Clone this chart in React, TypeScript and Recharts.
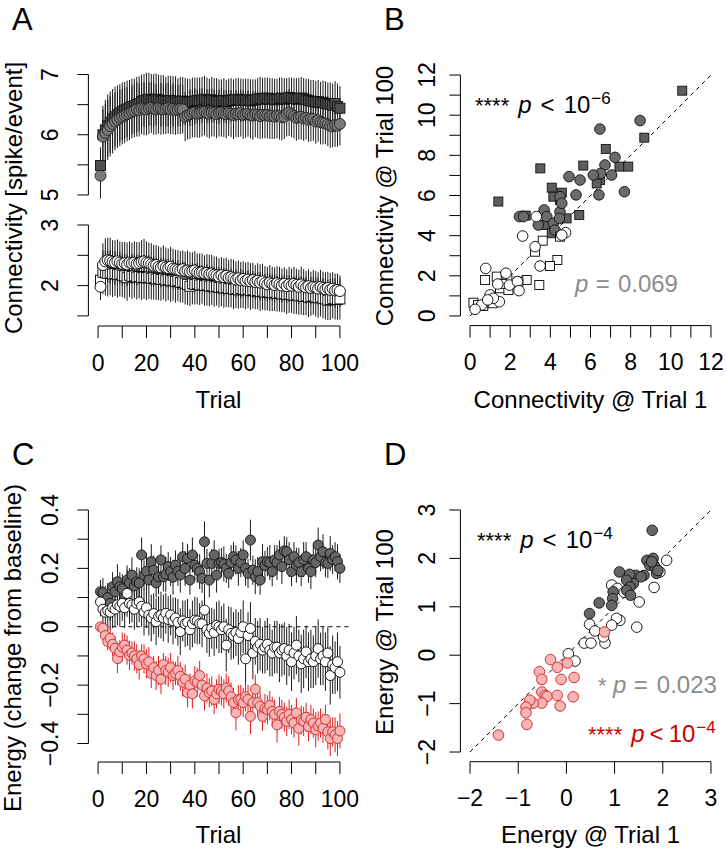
import React from "react";
import { ScatterChart, Scatter, XAxis, YAxis, ErrorBar, ReferenceLine } from "recharts";

const FONT = '"Liberation Sans", Arial, Helvetica, sans-serif';
const PAGE_W = 727;
const PAGE_H = 852;
const AXIS_W = 50;
const AXIS_H = 50;

// trial numbers (x of panels A and C)
const trials = Array.from({ length: 100 }, (_, i) => i + 1);
const trialTicks = [0, 10, 20, 30, 40, 50, 60, 70, 80, 90, 100];
const trialLabels = [0, 20, 40, 60, 80, 100];

// ---- panel A, upper part (grey circles / dark squares)
const aGray = [
    5.32, 5.97, 6.03, 6.08, 6.14, 6.18, 6.22, 6.25, 6.28, 6.3,
    6.32, 6.34, 6.36, 6.38, 6.4, 6.42, 6.41, 6.44, 6.43, 6.42,
    6.44, 6.45, 6.43, 6.42, 6.44, 6.43, 6.42, 6.43, 6.44, 6.42,
    6.43, 6.41, 6.42, 6.43, 6.42, 6.3, 6.32, 6.34, 6.36, 6.37,
    6.35, 6.36, 6.37, 6.38, 6.36, 6.35, 6.37, 6.36, 6.34, 6.36,
    6.37, 6.35, 6.34, 6.36, 6.35, 6.33, 6.35, 6.34, 6.36, 6.33,
    6.34, 6.35, 6.33, 6.32, 6.34, 6.33, 6.31, 6.33, 6.32, 6.33,
    6.31, 6.32, 6.3, 6.32, 6.31, 6.29, 6.3, 6.35, 6.37, 6.34,
    6.31, 6.28, 6.29, 6.3, 6.27, 6.28, 6.25, 6.27, 6.26, 6.22,
    6.24, 6.21, 6.2, 6.19, 6.17, 6.15, 6.14, 6.16, 6.15, 6.18,
];
const aGrayErr = [
    0.38, 0.45, 0.48, 0.5, 0.5, 0.49, 0.48, 0.47, 0.47, 0.46,
    0.46, 0.45, 0.45, 0.44, 0.44, 0.45, 0.44, 0.43, 0.44, 0.43,
    0.43, 0.42, 0.43, 0.42, 0.42, 0.43, 0.41, 0.42, 0.42, 0.41,
    0.42, 0.41, 0.41, 0.42, 0.4, 0.41, 0.4, 0.41, 0.4, 0.41,
    0.4, 0.41, 0.4, 0.39, 0.4, 0.41, 0.4, 0.39, 0.4, 0.39,
    0.4, 0.39, 0.4, 0.38, 0.39, 0.4, 0.39, 0.38, 0.39, 0.4,
    0.39, 0.38, 0.39, 0.4, 0.38, 0.39, 0.38, 0.39, 0.38, 0.39,
    0.38, 0.39, 0.37, 0.38, 0.39, 0.38, 0.37, 0.38, 0.39, 0.38,
    0.37, 0.38, 0.37, 0.38, 0.37, 0.36, 0.37, 0.38, 0.36, 0.37,
    0.36, 0.37, 0.36, 0.35, 0.36, 0.37, 0.35, 0.36, 0.35, 0.36,
];
const aDark = [
    5.49, 6.0, 6.08, 6.15, 6.21, 6.26, 6.3, 6.33, 6.36, 6.39,
    6.41, 6.43, 6.45, 6.47, 6.48, 6.5, 6.52, 6.55, 6.57, 6.58,
    6.59, 6.58, 6.57, 6.59, 6.58, 6.56, 6.57, 6.55, 6.56, 6.57,
    6.55, 6.56, 6.54, 6.55, 6.56, 6.55, 6.53, 6.54, 6.55, 6.56,
    6.57, 6.56, 6.58, 6.59, 6.57, 6.56, 6.58, 6.57, 6.56, 6.55,
    6.56, 6.57, 6.55, 6.56, 6.58, 6.57, 6.58, 6.59, 6.57, 6.58,
    6.57, 6.58, 6.56, 6.57, 6.58, 6.59, 6.6, 6.59, 6.61, 6.6,
    6.59, 6.6, 6.58, 6.59, 6.6, 6.61, 6.59, 6.6, 6.62, 6.61,
    6.6, 6.59, 6.6, 6.61, 6.6, 6.58, 6.57, 6.56, 6.55, 6.54,
    6.55, 6.53, 6.54, 6.52, 6.51, 6.5, 6.49, 6.52, 6.47, 6.44,
];
const aDarkErr = [
    0.3, 0.48, 0.5, 0.52, 0.51, 0.5, 0.5, 0.49, 0.48, 0.48,
    0.47, 0.47, 0.46, 0.46, 0.45, 0.46, 0.45, 0.45, 0.44, 0.45,
    0.44, 0.43, 0.44, 0.43, 0.42, 0.43, 0.42, 0.41, 0.42, 0.41,
    0.42, 0.41, 0.4, 0.41, 0.4, 0.39, 0.4, 0.39, 0.4, 0.39,
    0.38, 0.39, 0.38, 0.39, 0.38, 0.37, 0.38, 0.37, 0.38, 0.37,
    0.36, 0.37, 0.36, 0.37, 0.36, 0.35, 0.36, 0.35, 0.36, 0.35,
    0.36, 0.35, 0.36, 0.35, 0.34, 0.35, 0.36, 0.35, 0.34, 0.35,
    0.35, 0.34, 0.35, 0.34, 0.35, 0.34, 0.35, 0.34, 0.33, 0.34,
    0.34, 0.35, 0.34, 0.35, 0.34, 0.35, 0.36, 0.35, 0.36, 0.35,
    0.36, 0.35, 0.36, 0.37, 0.36, 0.37, 0.36, 0.37, 0.38, 0.37,
];

// ---- panel A, lower part (white circles / white squares)
const aWhite = [
    1.98, 2.34, 2.4, 2.42, 2.41, 2.39, 2.38, 2.4, 2.38, 2.36,
    2.37, 2.35, 2.38, 2.37, 2.38, 2.36, 2.37, 2.39, 2.4, 2.38,
    2.37, 2.35, 2.33, 2.34, 2.31, 2.3, 2.32, 2.3, 2.29, 2.31,
    2.28, 2.27, 2.26, 2.25, 2.27, 2.24, 2.25, 2.23, 2.24, 2.25,
    2.22, 2.21, 2.22, 2.2, 2.21, 2.19, 2.2, 2.18, 2.17, 2.15,
    2.17, 2.14, 2.16, 2.13, 2.14, 2.12, 2.1, 2.12, 2.09, 2.11,
    2.08, 2.1, 2.07, 2.09, 2.06, 2.08, 2.05, 2.07, 2.04, 2.02,
    2.05, 2.03, 2.01, 2.04, 2.02, 2.0, 2.03, 1.99, 2.02, 2.0,
    2.03, 2.01, 1.98, 2.02, 1.99, 1.97, 1.99, 1.96, 1.98, 1.97,
    1.95, 1.98, 1.96, 1.94, 1.96, 1.93, 1.95, 1.92, 1.93, 1.91,
];
const aWhiteErr = [
    0.22, 0.36, 0.38, 0.37, 0.38, 0.36, 0.37, 0.36, 0.35, 0.36,
    0.35, 0.36, 0.35, 0.34, 0.35, 0.36, 0.35, 0.36, 0.37, 0.35,
    0.34, 0.35, 0.34, 0.33, 0.34, 0.33, 0.34, 0.33, 0.32, 0.33,
    0.33, 0.32, 0.33, 0.32, 0.31, 0.32, 0.33, 0.32, 0.31, 0.32,
    0.31, 0.32, 0.31, 0.3, 0.31, 0.32, 0.31, 0.3, 0.31, 0.3,
    0.3, 0.31, 0.3, 0.29, 0.3, 0.31, 0.3, 0.29, 0.3, 0.29,
    0.3, 0.29, 0.3, 0.29, 0.28, 0.29, 0.3, 0.29, 0.28, 0.29,
    0.29, 0.28, 0.29, 0.28, 0.29, 0.28, 0.27, 0.28, 0.29, 0.28,
    0.28, 0.27, 0.28, 0.29, 0.28, 0.27, 0.28, 0.27, 0.28, 0.27,
    0.27, 0.28, 0.27, 0.28, 0.27, 0.28, 0.27, 0.28, 0.27, 0.26,
];
const aWhiteSq = [
    2.09, 2.22, 2.21, 2.2, 2.21, 2.19, 2.2, 2.18, 2.19, 2.17,
    2.16, 2.13, 2.17, 2.15, 2.16, 2.14, 2.15, 2.13, 2.14, 2.13,
    2.14, 2.12, 2.13, 2.11, 2.12, 2.1, 2.11, 2.09, 2.1, 2.08,
    2.09, 2.07, 2.08, 2.05, 2.06, 2.04, 2.02, 1.99, 2.03, 2.02,
    2.03, 2.01, 2.02, 2.0, 2.01, 1.99, 2.0, 1.98, 1.99, 1.97,
    1.98, 1.96, 1.97, 1.95, 1.96, 1.94, 1.95, 1.93, 1.95, 1.94,
    1.93, 1.94, 1.92, 1.93, 1.91, 1.92, 1.9, 1.91, 1.89, 1.9,
    1.89, 1.88, 1.89, 1.87, 1.88, 1.86, 1.87, 1.85, 1.86, 1.85,
    1.84, 1.85, 1.83, 1.84, 1.82, 1.83, 1.81, 1.82, 1.83, 1.81,
    1.8, 1.81, 1.79, 1.78, 1.76, 1.77, 1.79, 1.78, 1.77, 1.78,
];
const aWhiteSqErr = [
    0.25, 0.36, 0.37, 0.38, 0.37, 0.38, 0.37, 0.38, 0.37, 0.36,
    0.37, 0.38, 0.36, 0.37, 0.36, 0.37, 0.36, 0.37, 0.36, 0.37,
    0.36, 0.35, 0.36, 0.35, 0.36, 0.35, 0.34, 0.35, 0.34, 0.35,
    0.34, 0.35, 0.34, 0.33, 0.34, 0.35, 0.34, 0.33, 0.34, 0.33,
    0.34, 0.33, 0.32, 0.33, 0.34, 0.33, 0.32, 0.33, 0.32, 0.33,
    0.32, 0.33, 0.32, 0.31, 0.32, 0.33, 0.32, 0.31, 0.32, 0.31,
    0.32, 0.31, 0.32, 0.31, 0.3, 0.31, 0.32, 0.31, 0.3, 0.31,
    0.31, 0.3, 0.31, 0.3, 0.31, 0.3, 0.31, 0.32, 0.31, 0.3,
    0.31, 0.32, 0.31, 0.32, 0.31, 0.32, 0.33, 0.32, 0.31, 0.32,
    0.33, 0.32, 0.33, 0.34, 0.33, 0.34, 0.33, 0.34, 0.33, 0.34,
];

// ---- panel B: connectivity trial 1 vs trial 100
const bGraySqX = [10.57, 8.68, 6.76, 5.64, 3.5, 7.44, 7.88, 6.47, 6.31, 4.07, 4.57, 1.41, 4.15, 2.77, 3.73, 4.07, 4.81, 5.44, 4.48];
const bGraySqY = [11.22, 8.88, 8.32, 7.49, 7.35, 7.44, 7.44, 6.77, 6.6, 6.39, 6.14, 5.7, 5.94, 5.0, 4.53, 4.12, 4.86, 5.03, 5.78];
const bGrayX = [8.47, 6.47, 7.22, 6.72, 6.5, 6.14, 7.05, 4.93, 5.48, 7.69, 6.42, 4.48, 5.28, 2.46, 2.66, 3.69, 3.82, 3.4, 4.15, 4.48, 4.57, 4.45, 4.23];
const bGrayY = [9.73, 9.31, 7.9, 7.52, 7.1, 7.02, 7.02, 6.94, 6.77, 6.19, 6.03, 5.94, 6.03, 4.95, 4.95, 5.28, 4.95, 4.53, 4.62, 5.19, 5.61, 4.86, 4.28];
const bWhiteSqX = [3.62, 3.24, 4.35, 3.98, 3.45, 2.82, 2.41, 1.86, 1.33, 0.75, 1.49, 1.91, 0.17, 0.66, 1.13, 4.48, 0.4, 1.6];
const bWhiteSqY = [3.75, 3.2, 2.79, 2.49, 1.54, 1.79, 1.71, 1.88, 1.96, 1.79, 1.38, 1.29, 0.66, 0.5, 0.63, 3.95, 0.55, 1.6];
const bWhiteX = [2.62, 3.24, 3.49, 4.76, 4.57, 0.78, 1.79, 1.38, 1.96, 2.36, 2.44, 1.0, 1.46, 0.58, 0.25, 1.16, 0.88, 3.3];
const bWhiteY = [3.98, 3.45, 2.49, 4.15, 4.03, 2.37, 2.13, 1.59, 1.54, 1.71, 1.26, 1.05, 0.71, 0.55, 0.33, 0.88, 0.8, 4.95];
const bTicks = [0, 1, 2, 3, 4, 5, 6, 7, 8, 9, 10, 11, 12];
const bLabels = [0, 2, 4, 6, 8, 10, 12];

// ---- panel C: energy change from baseline
const cGray = [
    0.12, 0.117, 0.09, 0.1, 0.08, 0.137, 0.12, 0.154, 0.137, 0.13,
    0.097, 0.16, 0.15, 0.177, 0.14, 0.154, 0.15, 0.246, 0.177, 0.19,
    0.16, 0.223, 0.194, 0.15, 0.171, 0.229, 0.171, 0.18, 0.206, 0.189,
    0.17, 0.211, 0.19, 0.177, 0.24, 0.2, 0.234, 0.16, 0.246, 0.211,
    0.2, 0.189, 0.166, 0.291, 0.217, 0.16, 0.217, 0.246, 0.177, 0.217,
    0.22, 0.215, 0.2, 0.183, 0.22, 0.24, 0.229, 0.2, 0.22, 0.246,
    0.2, 0.183, 0.297, 0.194, 0.171, 0.189, 0.16, 0.223, 0.21, 0.223,
    0.22, 0.189, 0.229, 0.22, 0.246, 0.206, 0.26, 0.257, 0.23, 0.189,
    0.24, 0.211, 0.22, 0.189, 0.23, 0.24, 0.2, 0.189, 0.229, 0.22,
    0.28, 0.24, 0.257, 0.22, 0.217, 0.251, 0.23, 0.24, 0.223, 0.2,
];
const cGrayErr = [
    0.04, 0.05, 0.05, 0.05, 0.06, 0.05, 0.05, 0.06, 0.05, 0.05,
    0.06, 0.05, 0.05, 0.06, 0.05, 0.05, 0.05, 0.06, 0.05, 0.06,
    0.05, 0.06, 0.05, 0.05, 0.06, 0.05, 0.05, 0.06, 0.05, 0.05,
    0.06, 0.05, 0.05, 0.06, 0.05, 0.06, 0.05, 0.05, 0.06, 0.05,
    0.05, 0.06, 0.05, 0.07, 0.05, 0.06, 0.05, 0.05, 0.06, 0.05,
    0.05, 0.06, 0.05, 0.05, 0.06, 0.05, 0.05, 0.06, 0.05, 0.05,
    0.06, 0.05, 0.07, 0.05, 0.06, 0.05, 0.05, 0.06, 0.05, 0.05,
    0.06, 0.05, 0.05, 0.06, 0.05, 0.06, 0.05, 0.05, 0.06, 0.05,
    0.05, 0.06, 0.05, 0.05, 0.06, 0.05, 0.05, 0.06, 0.05, 0.05,
    0.06, 0.05, 0.06, 0.05, 0.05, 0.06, 0.05, 0.05, 0.06, 0.05,
];
const cWhite = [
    0.085, 0.06, 0.05, 0.055, 0.05, 0.065, 0.06, 0.075, 0.07, 0.08,
    0.065, 0.114, 0.08, 0.075, 0.06, 0.08, 0.085, 0.07, 0.05, 0.065,
    0.04, 0.03, 0.045, 0.017, 0.035, 0.04, 0.03, 0.046, 0.025, 0.04,
    0.02, 0.03, 0.015, -0.017, 0.02, 0.01, 0.015, -0.01, 0.01, 0.023,
    0.02, 0.011, 0.01, 0.057, -0.01, -0.023, -0.005, -0.02, 0.005, 0.0,
    -0.01, 0.0, -0.063, -0.01, -0.023, -0.03, -0.02, -0.04, -0.02, 0.0,
    -0.11, -0.03, -0.006, -0.09, -0.05, -0.07, -0.06, -0.08, -0.07, -0.06,
    -0.08, -0.09, -0.07, -0.07, -0.09, -0.08, -0.075, -0.1, -0.08, -0.12,
    -0.09, -0.063, -0.1, -0.127, -0.11, -0.086, -0.12, -0.11, -0.12, -0.1,
    -0.075, -0.11, -0.1, -0.12, -0.09, -0.167, -0.13, -0.14, -0.12, -0.156,
];
const cWhiteErr = [
    0.05, 0.06, 0.06, 0.07, 0.06, 0.07, 0.06, 0.07, 0.07, 0.06,
    0.07, 0.08, 0.07, 0.06, 0.07, 0.08, 0.07, 0.07, 0.08, 0.07,
    0.07, 0.08, 0.07, 0.08, 0.07, 0.08, 0.08, 0.07, 0.08, 0.07,
    0.08, 0.07, 0.08, 0.08, 0.07, 0.08, 0.08, 0.07, 0.08, 0.08,
    0.08, 0.07, 0.08, 0.09, 0.08, 0.08, 0.07, 0.08, 0.08, 0.09,
    0.08, 0.08, 0.09, 0.08, 0.09, 0.08, 0.08, 0.09, 0.08, 0.09,
    0.09, 0.08, 0.09, 0.09, 0.08, 0.09, 0.09, 0.08, 0.09, 0.09,
    0.09, 0.08, 0.09, 0.09, 0.1, 0.09, 0.09, 0.1, 0.09, 0.1,
    0.09, 0.1, 0.09, 0.1, 0.1, 0.09, 0.1, 0.1, 0.09, 0.1,
    0.1, 0.09, 0.1, 0.1, 0.09, 0.1, 0.1, 0.09, 0.1, 0.09,
];
const cRed = [
    0.0, -0.005, -0.03, -0.051, -0.04, -0.06, -0.074, -0.109, -0.086, -0.07,
    -0.063, -0.08, -0.098, -0.09, -0.1, -0.11, -0.13, -0.1, -0.11, -0.127,
    -0.12, -0.16, -0.14, -0.167, -0.15, -0.18, -0.13, -0.15, -0.156, -0.14,
    -0.167, -0.16, -0.15, -0.17, -0.19, -0.18, -0.226, -0.2, -0.23, -0.185,
    -0.19, -0.167, -0.2, -0.237, -0.21, -0.226, -0.22, -0.249, -0.23, -0.214,
    -0.22, -0.23, -0.21, -0.22, -0.24, -0.26, -0.295, -0.25, -0.249, -0.26,
    -0.24, -0.249, -0.307, -0.26, -0.214, -0.26, -0.272, -0.307, -0.28, -0.284,
    -0.27, -0.29, -0.3, -0.336, -0.29, -0.3, -0.31, -0.324, -0.3, -0.318,
    -0.33, -0.295, -0.348, -0.32, -0.324, -0.31, -0.342, -0.318, -0.33, -0.353,
    -0.34, -0.33, -0.348, -0.318, -0.36, -0.383, -0.36, -0.37, -0.383, -0.357,
];
const cRedErr = [
    0.01, 0.02, 0.03, 0.03, 0.04, 0.04, 0.04, 0.05, 0.04, 0.05,
    0.04, 0.05, 0.05, 0.04, 0.05, 0.05, 0.05, 0.04, 0.05, 0.05,
    0.05, 0.05, 0.04, 0.05, 0.05, 0.05, 0.04, 0.05, 0.05, 0.05,
    0.05, 0.04, 0.05, 0.05, 0.05, 0.05, 0.05, 0.04, 0.05, 0.05,
    0.05, 0.05, 0.04, 0.05, 0.05, 0.05, 0.05, 0.05, 0.05, 0.05,
    0.05, 0.05, 0.05, 0.05, 0.05, 0.05, 0.06, 0.05, 0.05, 0.05,
    0.05, 0.05, 0.06, 0.05, 0.05, 0.05, 0.05, 0.05, 0.05, 0.05,
    0.05, 0.05, 0.05, 0.06, 0.05, 0.05, 0.05, 0.05, 0.05, 0.05,
    0.05, 0.05, 0.06, 0.05, 0.05, 0.05, 0.05, 0.05, 0.05, 0.06,
    0.05, 0.05, 0.05, 0.05, 0.06, 0.06, 0.05, 0.06, 0.06, 0.06,
];
const cTicks = [-0.4, -0.3, -0.2, -0.1, 0, 0.1, 0.2, 0.3, 0.4];
const cLabels = [-0.4, -0.2, 0, 0.2, 0.4];

// ---- panel D: energy trial 1 vs trial 100
const dGrayX = [1.78, 1.67, 1.73, 1.8, 1.84, 1.77, 1.87, 1.61, 1.44, 1.31, 1.1, 1.39, 1.25, 1.32, 1.25, 1.33, 0.97, 0.96, 0.94, 0.68, 0.48, 1.55, 1.9];
const dGrayY = [2.58, 1.96, 1.86, 2.0, 1.82, 1.93, 1.69, 1.65, 1.65, 1.67, 1.72, 1.48, 1.55, 1.41, 1.34, 1.24, 1.31, 1.17, 1.03, 1.08, 0.86, 1.62, 1.75];
const dWhiteX = [2.08, 1.94, 1.82, 1.51, 0.94, 1.06, 1.11, 1.04, 1.46, 0.94, 0.48, 0.59, 0.37, 0.51, 0.8, 0.77, 0.04, 0.18, 1.2];
const dWhiteY = [1.96, 1.72, 1.4, 1.1, 1.45, 1.38, 0.72, 0.76, 0.58, 0.62, 0.64, 0.5, 0.25, 0.25, 0.25, 0.38, 0.03, -0.12, 1.3];
const dRedX = [0.79, -0.33, -0.56, -0.51, -0.19, 0.02, 0.16, -0.11, -0.51, -0.44, -0.4, -0.19, 0.14, -0.13, -0.51, -0.69, -0.76, -0.84, -0.84, -0.82, -1.41];
const dRedY = [0.48, -0.09, -0.34, -0.5, -0.25, -0.16, -0.46, -0.5, -0.76, -0.83, -0.85, -0.83, -0.86, -1.05, -0.99, -0.99, -0.93, -1.07, -1.19, -1.43, -1.65];
const dTicks = [-2, -1, 0, 1, 2, 3];

const series = (ys: number[], es: number[]) => ys.map((y, i) => ({ x: trials[i], y, e: es[i] }));
const pairs = (xs: number[], ys: number[]) => xs.map((x, i) => ({ x, y: ys[i] }));

const fmt = (v: number) => (v < 0 ? "\u2212" + String(-v) : String(v));

function XTick(props: any) {
    const { x, y, payload, labels } = props;
    if (!labels.includes(payload.value)) return null;
    return (
        <text x={x} y={y + 32.5} textAnchor="middle" fontSize={23} fontFamily={FONT} fill="#000">
            {fmt(payload.value)}
        </text>
    );
}

function YTick(props: any) {
    const { x, y, payload, labels, off } = props;
    if (!labels.includes(payload.value)) return null;
    const cx = x - off;
    return (
        <text
            x={cx}
            y={y}
            transform={`rotate(-90 ${cx} ${y})`}
            textAnchor="middle"
            dominantBaseline="central"
            fontSize={23}
            fontFamily={FONT}
            fill="#000"
        >
            {fmt(payload.value)}
        </text>
    );
}

// plot area in page pixels -> chart margins
const box = (l: number, r: number, t: number, b: number, xAxis = true) => ({
    left: l - AXIS_W,
    right: PAGE_W - r,
    top: t,
    bottom: PAGE_H - b - (xAxis ? AXIS_H : 0),
});

const dot = (r: number, fill: string, stroke: string) => (p: any) =>
    <circle cx={p.cx} cy={p.cy} r={r} fill={fill} stroke={stroke} strokeWidth={0.9} />;
const sq = (s: number, fill: string, stroke: string) => (p: any) =>
    <rect x={p.cx - s / 2} y={p.cy - s / 2} width={s} height={s} fill={fill} stroke={stroke} strokeWidth={0.9} />;

const layer: React.CSSProperties = { position: "absolute", left: 0, top: 0 };
const axisStroke = { stroke: "#000", strokeWidth: 1 };

function xAxisProps(domain: number[], ticks: number[], labels: number[]) {
    return {
        type: "number" as const,
        dataKey: "x",
        domain,
        ticks,
        interval: 0,
        allowDataOverflow: true,
        axisLine: false,
        tickLine: axisStroke,
        tickSize: 12,
        tickMargin: 0,
        height: AXIS_H,
        tick: (p: any) => <XTick {...p} labels={labels} />,
    };
}

function yAxisProps(domain: number[], ticks: number[], labels: number[], off: number) {
    return {
        type: "number" as const,
        dataKey: "y",
        domain,
        ticks,
        interval: 0,
        allowDataOverflow: true,
        axisLine: false,
        tickLine: axisStroke,
        tickSize: 11,
        tickMargin: 0,
        width: AXIS_W,
        tick: (p: any) => <YTick {...p} labels={labels} off={off} />,
    };
}

const LOW_MIN = 1.3333;
const C_MIN = -0.4634;

function PanelA() {
    return (
        <>
            <div style={layer}>
                <ScatterChart width={PAGE_W} height={PAGE_H} margin={box(88.4, 349.6, 65.5, 204, false)}>
                    <XAxis type="number" dataKey="x" domain={[-4, 104]} allowDataOverflow hide />
                    <YAxis {...yAxisProps([4.85, 7.15], [5, 5.5, 6, 6.5, 7], [5, 6, 7], 27)} />
                    <ReferenceLine segment={[{ x: -4, y: 5 }, { x: -4, y: 7 }]} stroke="#000" ifOverflow="visible" />
                    <Scatter data={series(aDark, aDarkErr)} shape={sq(10, "#505050", "#111")} isAnimationActive={false}>
                        <ErrorBar dataKey="e" direction="y" width={0} stroke="#1a1a1a" strokeWidth={1} isAnimationActive={false} />
                    </Scatter>
                    <Scatter data={series(aGray, aGrayErr)} shape={dot(5.5, "#7a7a7a", "#222")} isAnimationActive={false}>
                        <ErrorBar dataKey="e" direction="y" width={0} stroke="#1a1a1a" strokeWidth={1} isAnimationActive={false} />
                    </Scatter>
                </ScatterChart>
            </div>
            <div style={layer}>
                <ScatterChart width={PAGE_W} height={PAGE_H} margin={box(88.4, 349.6, 215.9, 326)}>
                    <XAxis {...xAxisProps([-4, 104], trialTicks, trialLabels)} />
                    <YAxis {...yAxisProps([LOW_MIN, 3.15], [1.5, 2, 2.5, 3], [2, 3], 27)} />
                    <ReferenceLine segment={[{ x: -4, y: 1.5 }, { x: -4, y: 3 }]} stroke="#000" ifOverflow="visible" />
                    <ReferenceLine segment={[{ x: 0, y: LOW_MIN }, { x: 100, y: LOW_MIN }]} stroke="#000" ifOverflow="visible" />
                    <Scatter data={series(aWhiteSq, aWhiteSqErr)} shape={sq(10, "#fff", "#000")} isAnimationActive={false}>
                        <ErrorBar dataKey="e" direction="y" width={0} stroke="#1a1a1a" strokeWidth={1} isAnimationActive={false} />
                    </Scatter>
                    <Scatter data={series(aWhite, aWhiteErr)} shape={dot(5.5, "#fff", "#000")} isAnimationActive={false}>
                        <ErrorBar dataKey="e" direction="y" width={0} stroke="#1a1a1a" strokeWidth={1} isAnimationActive={false} />
                    </Scatter>
                </ScatterChart>
            </div>
        </>
    );
}

function PanelB() {
    return (
        <div style={layer}>
            <ScatterChart width={PAGE_W} height={PAGE_H} margin={box(460.4, 720.6, 65.4, 325.6)}>
                <XAxis {...xAxisProps([-0.48, 12.48], bTicks, bLabels)} />
                <YAxis {...yAxisProps([-0.48, 12.48], bTicks, bLabels, 22)} />
                <ReferenceLine segment={[{ x: -0.48, y: 0 }, { x: -0.48, y: 12 }]} stroke="#000" ifOverflow="visible" />
                <ReferenceLine segment={[{ x: 0, y: -0.48 }, { x: 12, y: -0.48 }]} stroke="#000" ifOverflow="visible" />
                <ReferenceLine segment={[{ x: 0, y: 0 }, { x: 12, y: 12 }]} stroke="#000" strokeDasharray="4 4" ifOverflow="visible" />
                <Scatter data={pairs(bGraySqX, bGraySqY)} shape={sq(9, "#5e5e5e", "#111")} isAnimationActive={false} />
                <Scatter data={pairs(bGrayX, bGrayY)} shape={dot(5.3, "#6b6b6b", "#111")} isAnimationActive={false} />
                <Scatter data={pairs(bWhiteSqX, bWhiteSqY)} shape={sq(9, "#fff", "#000")} isAnimationActive={false} />
                <Scatter data={pairs(bWhiteX, bWhiteY)} shape={dot(5.3, "#fff", "#000")} isAnimationActive={false} />
            </ScatterChart>
        </div>
    );
}

function PanelC() {
    return (
        <div style={layer}>
            <ScatterChart width={PAGE_W} height={PAGE_H} margin={box(88.4, 349.6, 495.4, 762)}>
                <XAxis {...xAxisProps([-4, 104], trialTicks, trialLabels)} />
                <YAxis {...yAxisProps([C_MIN, 0.45], cTicks, cLabels, 27)} />
                <ReferenceLine segment={[{ x: -4, y: -0.4 }, { x: -4, y: 0.4 }]} stroke="#000" ifOverflow="visible" />
                <ReferenceLine segment={[{ x: 0, y: C_MIN }, { x: 100, y: C_MIN }]} stroke="#000" ifOverflow="visible" />
                <ReferenceLine segment={[{ x: -4, y: 0 }, { x: 104, y: 0 }]} stroke="#000" strokeDasharray="4 4" ifOverflow="visible" />
                <Scatter data={series(cGray, cGrayErr)} shape={dot(5, "#666", "#111")} isAnimationActive={false}>
                    <ErrorBar dataKey="e" direction="y" width={0} stroke="#1a1a1a" strokeWidth={1} isAnimationActive={false} />
                </Scatter>
                <Scatter data={series(cWhite, cWhiteErr)} shape={dot(5, "#fff", "#000")} isAnimationActive={false}>
                    <ErrorBar dataKey="e" direction="y" width={0} stroke="#1a1a1a" strokeWidth={1} isAnimationActive={false} />
                </Scatter>
                <Scatter data={series(cRed, cRedErr)} shape={dot(5, "#f5b5b5", "#d42020")} isAnimationActive={false}>
                    <ErrorBar dataKey="e" direction="y" width={0} stroke="#e01a1a" strokeWidth={1} isAnimationActive={false} />
                </Scatter>
            </ScatterChart>
        </div>
    );
}

function PanelD() {
    return (
        <div style={layer}>
            <ScatterChart width={PAGE_W} height={PAGE_H} margin={box(460.4, 720.6, 500.3, 761.7)}>
                <XAxis {...xAxisProps([-2.2, 3.2], dTicks, dTicks)} />
                <YAxis {...yAxisProps([-2.2, 3.2], dTicks, dTicks, 22)} />
                <ReferenceLine segment={[{ x: -2.2, y: -2 }, { x: -2.2, y: 3 }]} stroke="#000" ifOverflow="visible" />
                <ReferenceLine segment={[{ x: -2, y: -2.2 }, { x: 3, y: -2.2 }]} stroke="#000" ifOverflow="visible" />
                <ReferenceLine segment={[{ x: -2, y: -2 }, { x: 3, y: 3 }]} stroke="#000" strokeDasharray="4 4" ifOverflow="visible" />
                <Scatter data={pairs(dWhiteX, dWhiteY)} shape={dot(5.3, "#fff", "#000")} isAnimationActive={false} />
                <Scatter data={pairs(dGrayX, dGrayY)} shape={dot(5.3, "#666", "#111")} isAnimationActive={false} />
                <Scatter data={pairs(dRedX, dRedY)} shape={dot(5.3, "#f5b5b5", "#d42020")} isAnimationActive={false} />
            </ScatterChart>
        </div>
    );
}

const GRAY_TXT = "#8c8c8c";
const RED_TXT = "#cc0000";

function Overlay() {
    const t = { fontFamily: FONT, fill: "#000" };
    const yTitle = (x: number, y: number, s: string) => (
        <text x={x} y={y} transform={`rotate(-90 ${x} ${y})`} textAnchor="middle" fontSize={24} {...t}>
            {s}
        </text>
    );
    const pLess = (x: number, y: number, exp: string, color: string, gap: number) => (
        <text x={x} y={y} fontSize={24} fontFamily={FONT} fill={color}>
            <tspan fontSize={22}>****</tspan>
            <tspan dx={9} fontStyle="italic">p</tspan>
            <tspan dx={gap}>&lt;</tspan>
            <tspan dx={gap}>10</tspan>
            <tspan dx={1} dy={-9} fontSize={17}>{exp}</tspan>
        </text>
    );
    return (
        <svg width={PAGE_W} height={PAGE_H} style={{ ...layer, pointerEvents: "none" }}>
            <text x={12} y={30} fontSize={31} {...t}>A</text>
            <text x={384} y={30} fontSize={31} {...t}>B</text>
            <text x={12} y={465} fontSize={31} {...t}>C</text>
            <text x={384} y={465} fontSize={31} {...t}>D</text>

            <text x={218.5} y={408} textAnchor="middle" fontSize={24} {...t}>Trial</text>
            <text x={590.5} y={408} textAnchor="middle" fontSize={24} {...t}>Connectivity @ Trial 1</text>
            <text x={218.5} y={843} textAnchor="middle" fontSize={24} {...t}>Trial</text>
            <text x={590.5} y={843} textAnchor="middle" fontSize={24} {...t}>Energy @ Trial 1</text>
            {yTitle(22, 198, "Connectivity [spike/event]")}
            {yTitle(393, 196, "Connectivity @ Trial 100")}
            {yTitle(21, 648, "Energy (change from baseline)")}
            {yTitle(393, 632, "Energy @ Trial 100")}

            {pLess(475, 113, "\u22126", "#000", 9)}
            <text x={575} y={292} fontSize={24} fontFamily={FONT} fill={GRAY_TXT}>
                <tspan fontStyle="italic">p</tspan>
                <tspan dx={7.5}>=</tspan>
                <tspan dx={8}>0.069</tspan>
            </text>

            {pLess(477, 548, "\u22124", "#000", 9)}
            <text x={598} y={693} fontSize={24} fontFamily={FONT} fill={GRAY_TXT}>
                <tspan fontSize={22}>*</tspan>
                <tspan dx={6.4} fontStyle="italic">p</tspan>
                <tspan dx={7.5}>=</tspan>
                <tspan dx={9}>0.023</tspan>
            </text>
            {pLess(588, 742, "\u22124", RED_TXT, 5)}
        </svg>
    );
}

export default function App() {
    return (
        <div style={{ position: "absolute", left: 0, top: 0, width: PAGE_W, height: PAGE_H, background: "#fff" }}>
            <PanelA />
            <PanelB />
            <PanelC />
            <PanelD />
            <Overlay />
        </div>
    );
}
